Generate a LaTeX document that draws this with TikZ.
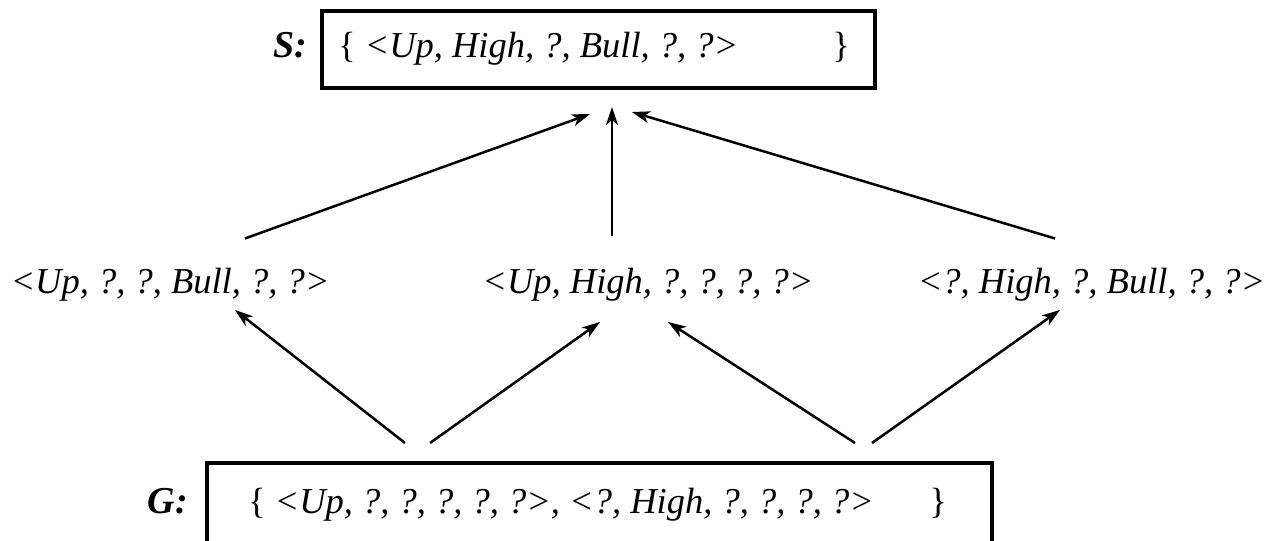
\documentclass[tikz,border=0pt]{standalone}
\usepackage{fontspec}
\setmainfont{Liberation Serif}
\usetikzlibrary{arrows.meta,calc}
\begin{document}
\begin{tikzpicture}[x=1pt,y=-1pt,
    txt/.style={font=\fontsize{36.5pt}{42pt}\selectfont\itshape, inner sep=0pt, anchor=base},
    lbl/.style={font=\fontsize{38pt}{42pt}\selectfont\bfseries\itshape, inner sep=0pt, anchor=base},
    setbox/.style={draw, line width=4pt, inner sep=0pt},
    arr/.style={line width=2.5pt, -{Stealth[length=18pt,width=12pt,inset=5pt]}}]
    \clip (0,0) rectangle (1283,541);

    % Boxes for S and G
    \node[setbox, minimum width=553pt, minimum height=77pt] (sbox) at (598.5,49.5) {};
    \node[setbox, minimum width=785pt, minimum height=160pt] (gbox) at (599.5,543) {};

    % Set contents
    \node[lbl] (slbl) at (290,57) {S:};
    \node[txt] (sset) at (594,57) {\makebox[512pt][l]{\textup{\{} <Up, High, ?, Bull, ?, ?>\hfill\textup{\}}}};
    \node[lbl] (glbl) at (168,513) {G:};
    \node[txt] (gset) at (597.5,513) {\makebox[699pt][l]{\textup{\{} <Up, ?, ?, ?, ?, ?>, <?, High, ?, ?, ?, ?>\hfill\textup{\}}}};

    % Middle row
    \node[txt] (n1) at (170,293) {<Up, ?, ?, Bull, ?, ?>};
    \node[txt] (n2) at (648,293) {<Up, High, ?, ?, ?, ?>};
    \node[txt] (n3) at (1091.5,293) {<?, High, ?, Bull, ?, ?>};

    % Arrows up to S
    \draw[arr] ($(n1.north)+(75,-29)$) -- ($(sbox.south)+(-8.5,24)$);
    \draw[arr] ($(n2.north)+(-36,-31)$) -- ($(sbox.south)+(13.5,17)$);
    \draw[arr] ($(n3.north)+(-36.5,-29)$) -- ($(sbox.south)+(33.5,22)$);

    % Arrows up from G
    \draw[arr] ($(gbox.north)+(-194.5,-18)$) -- ($(n1.south)+(65,9)$);
    \draw[arr] ($(gbox.north)+(-169.5,-18)$) -- ($(n2.south)+(-48,21)$);
    \draw[arr] ($(gbox.north)+(255.5,-18)$) -- ($(n2.south)+(20,21)$);
    \draw[arr] ($(gbox.north)+(272.5,-18)$) -- ($(n3.south)+(-31.5,9)$);
\end{tikzpicture}
\end{document}
